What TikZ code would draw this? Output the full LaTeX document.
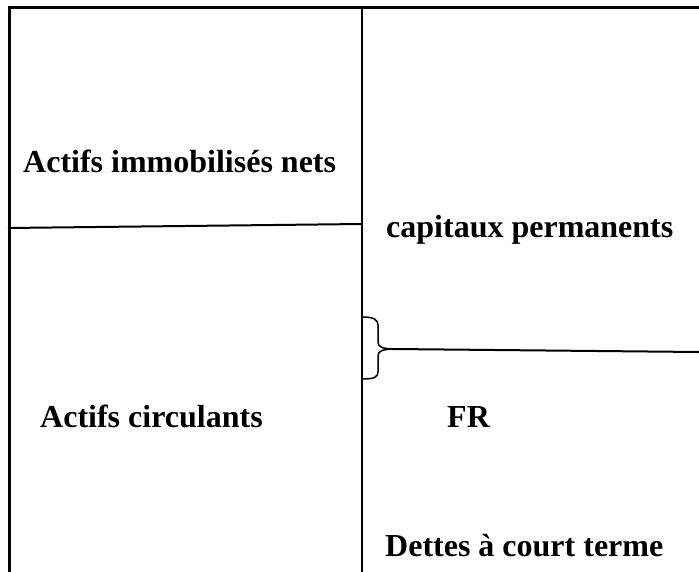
\documentclass[tikz,border=0pt]{standalone}
\usepackage{fontspec}
\setmainfont{Liberation Serif}
\begin{document}
\begin{tikzpicture}[x=1bp,y=-1bp,
  frame/.style={line width=3bp},
  rule/.style={line width=2bp},
  lbl/.style={anchor=base west,inner sep=0pt,font=\fontsize{32bp}{36bp}\selectfont\bfseries}]
\useasboundingbox (0,0) rectangle (699,572);
% outer frame and column divider
\draw[frame] (9,572) -- (9,8) -- (699,8);
\draw[line width=2.6bp] (362,8) -- (362,572);
% separation between fixed and current assets
\draw[rule] (8,228) -- (362,224);
% brace marking the working capital
\draw[line width=1.5bp] (363,317) .. controls (374,317) and (378,320) .. (378,325)
  -- (378,342) .. controls (378,347) and (382,348.5) .. (393,349)
  .. controls (382,349.5) and (378,351) .. (378,356)
  -- (378,372) .. controls (378,377) and (374,379) .. (363,379);
\coordinate (tip) at (393,349);
\coordinate (rend) at (699,352);
\draw[rule] (tip) -- (rend);
% labels
\node[lbl] (ain) at (23,173) {Actifs immobilisés nets};
\node[lbl] (cp) at (386,237) {capitaux permanents};
\node[lbl] (ac) at (40,427) {Actifs circulants};
\node[lbl] (fr) at (447,427) {FR};
\node[lbl] (dct) at (385,556) {Dettes à court terme};
\end{tikzpicture}
\end{document}
